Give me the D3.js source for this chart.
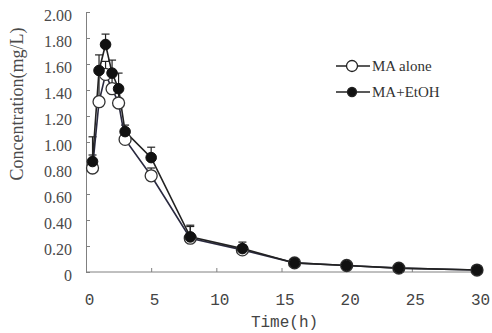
<!DOCTYPE html>
<html><head><meta charset="utf-8">
<script src="https://cdn.jsdelivr.net/npm/d3@7/dist/d3.min.js"></script>
<style>body{margin:0;background:#fff}svg{display:block}</style>
</head><body>
<svg id="c" width="492" height="333"></svg>
<script>
const times = [0.5,1,1.5,2,2.5,3,5,8,12,16,20,24,30];
const maAlone = [0.80,1.31,1.52,1.41,1.30,1.02,0.74,0.26,0.17,0.07,0.05,0.03,0.015];
const maAloneSD = [0.10,0.24,0.10,0.12,0.10,0.05,0.06,0.09,0.04,0,0,0,0];
const maEtoh = [0.85,1.55,1.75,1.53,1.41,1.08,0.88,0.27,0.18,0.07,0.05,0.03,0.015];
const maEtohSD = [0.19,0.12,0.08,0.10,0.12,0.05,0.08,0.09,0.05,0,0,0,0];
const xTicks = [0,5,10,15,20,25,30];
const yTicks = [0,0.2,0.4,0.6,0.8,1.0,1.2,1.4,1.6,1.8,2.0];
const seriesNames = ["MA alone","MA+EtOH"];

const svg = d3.select("#c");
const m = {l:86, r:15, t:12, b:61};
const W = 492, H = 333;
const x = d3.scaleLinear().domain([0,30]).range([m.l, W-m.r]);
const y = d3.scaleLinear().domain([0,2]).range([H-m.b, m.t]);
const axisCol = "#808080";

// axes
const gx = svg.append("g").attr("transform",`translate(0,${y(0)})`)
  .call(d3.axisBottom(x).tickValues(xTicks).tickSizeInner(-4).tickSizeOuter(0).tickFormat(d3.format("d")));
gx.select(".domain").attr("stroke",axisCol).attr("d",`M${m.l},0H${W-m.r}`);
gx.selectAll(".tick line").attr("stroke",axisCol);
gx.selectAll(".tick text").attr("y",22).attr("dx",3)
  .attr("font-family","Liberation Mono, monospace").attr("font-size",16).attr("fill","#444");

const gy = svg.append("g").attr("transform",`translate(${x(0)},0)`)
  .call(d3.axisLeft(y).tickValues(yTicks).tickSizeInner(-4).tickSizeOuter(0)
    .tickFormat(d => d===0 ? "0" : d3.format(".2f")(d)));
gy.select(".domain").attr("stroke",axisCol);
gy.selectAll(".tick line").attr("stroke",axisCol);
gy.selectAll(".tick text").attr("x",-14).attr("dy","0.55em")
  .attr("font-family","Liberation Serif, serif").attr("font-size",16).attr("fill","#4a4a4a");

// titles
svg.append("text").attr("x",(m.l+W-m.r)/2+3).attr("y",327)
  .attr("text-anchor","middle").attr("font-family","Liberation Mono, monospace")
  .attr("font-size",16).attr("fill","#444").text("Time(h)");
svg.append("text").attr("transform",`translate(23,104) rotate(-90)`)
  .attr("text-anchor","middle").attr("font-family","Liberation Serif, serif")
  .attr("font-size",18).attr("fill","#4a4a4a").text("Concentration(mg/L)");

const line = d3.line().x(d=>x(d[0])).y(d=>y(d[1]));
const dAlone = times.map((t,i)=>[t,maAlone[i],maAloneSD[i]]);
const dEtoh = times.map((t,i)=>[t,maEtoh[i],maEtohSD[i]]);

function errBars(data){
  const g = svg.append("g").attr("stroke","#222").attr("stroke-width",1.2);
  data.filter(d=>d[2]>0).forEach(d=>{
    g.append("line").attr("x1",x(d[0])).attr("x2",x(d[0])).attr("y1",y(d[1])).attr("y2",y(d[1]+d[2]));
    g.append("line").attr("x1",x(d[0])-4).attr("x2",x(d[0])+4).attr("y1",y(d[1]+d[2])).attr("y2",y(d[1]+d[2]));
  });
}
errBars(dAlone);
errBars(dEtoh);

svg.append("path").datum(dAlone).attr("d",line).attr("fill","none").attr("stroke","#2a2a40").attr("stroke-width",1.6);
svg.append("path").datum(dEtoh).attr("d",line).attr("fill","none").attr("stroke","#222").attr("stroke-width",1.6);

svg.append("g").selectAll("circle").data(dAlone).join("circle")
  .attr("cx",d=>x(d[0])).attr("cy",d=>y(d[1])).attr("r",6)
  .attr("fill","#fff").attr("stroke","#333").attr("stroke-width",1.3);
svg.append("g").selectAll("circle").data(dEtoh).join("circle")
  .attr("cx",d=>x(d[0])).attr("cy",d=>y(d[1])).attr("r",5.3)
  .attr("fill","#111").attr("stroke","#111");

// legend
const lg = svg.append("g");
seriesNames.forEach((name,i)=>{
  const yy = 66 + i*26;
  lg.append("line").attr("x1",336).attr("x2",370).attr("y1",yy).attr("y2",yy).attr("stroke","#222").attr("stroke-width",1.5);
  lg.append("circle").attr("cx",352).attr("cy",yy).attr("r",i===0?5.5:4.5)
    .attr("fill",i===0?"#fff":"#111").attr("stroke","#222").attr("stroke-width",1.3);
  lg.append("text").attr("x",372).attr("y",yy).attr("dy","0.35em")
    .attr("font-family","Liberation Serif, serif").attr("font-size",15).attr("fill","#333").text(name);
});
</script>
</body></html>
